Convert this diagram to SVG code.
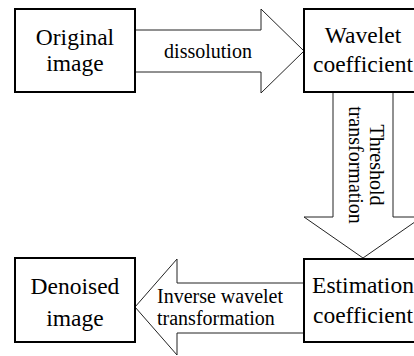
<svg xmlns="http://www.w3.org/2000/svg" width="414" height="356" viewBox="0 0 414 356">
<style>
.box{fill:#fff;stroke:#000;stroke-width:2}
.arr{fill:#fff;stroke:#222;stroke-width:1}
.bt{font-family:"Liberation Serif","Times New Roman",serif;font-size:23.5px;fill:#000;text-anchor:middle}
.lt{font-family:"Liberation Serif","Times New Roman",serif;font-size:20px;fill:#000}
</style>
<rect width="414" height="356" fill="#fff"/>
<g id="connectors">
<polygon class="arr" points="135,30 261,30 261,9 304,51 261,93 261,72 135,72"/>
<polygon class="arr" points="333,92 393,92 393,217 422,217 363,258 304,217 333,217"/>
<polygon class="arr" points="304,283 177,283 177,259 135,307 177,355 177,333 304,333"/>
<text class="lt" x="208" y="58" text-anchor="middle">dissolution</text>
<text class="lt" transform="translate(370,165) rotate(90)" text-anchor="middle">Threshold</text>
<text class="lt" transform="translate(348.5,165) rotate(90)" text-anchor="middle">transformation</text>
<text class="lt" x="157" y="303">Inverse wavelet</text>
<text class="lt" x="157" y="325">transformation</text>
</g>
<g id="node-original">
<rect class="box" x="15" y="9" width="120" height="83"/>
<text class="bt" x="75" y="45">Original</text>
<text class="bt" x="75" y="71">image</text>
</g>
<g id="node-wavelet">
<rect class="box" x="304" y="9" width="120" height="83"/>
<text class="bt" x="363" y="43">Wavelet</text>
<text class="bt" x="363" y="72">coefficient</text>
</g>
<g id="node-denoised">
<rect class="box" x="15" y="258" width="120" height="84"/>
<text class="bt" x="75" y="294">Denoised</text>
<text class="bt" x="75" y="326">image</text>
</g>
<g id="node-estimation">
<rect class="box" x="304" y="259" width="120" height="83"/>
<text class="bt" x="363" y="293">Estimation</text>
<text class="bt" x="363" y="323">coefficient</text>
</g>
</svg>
